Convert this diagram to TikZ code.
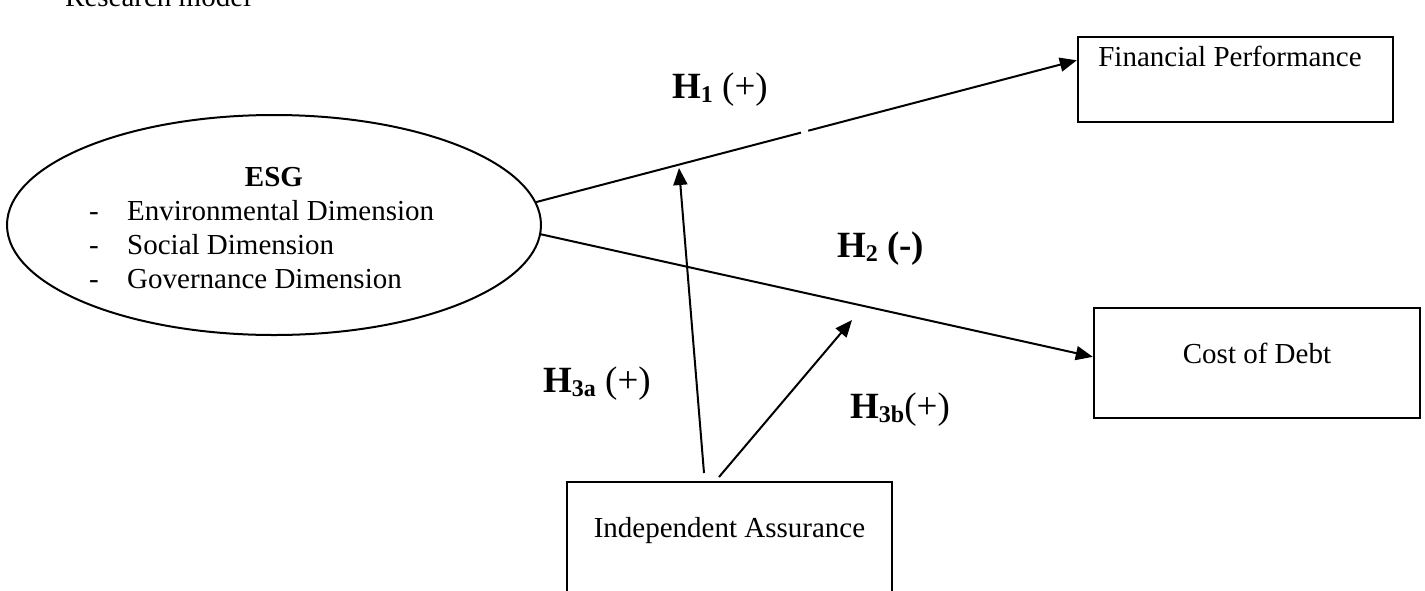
\documentclass[tikz,border=0pt]{standalone}
\usepackage{fontspec}
\setmainfont{Liberation Serif}
\usetikzlibrary{shapes.geometric,arrows.meta,calc}
\newcommand{\hsubx}[1]{\raisebox{-0.12em}{\fontsize{24}{24}\selectfont\bfseries #1}}
\begin{document}
\begin{tikzpicture}[x=1pt,y=-1pt,
  boxnode/.style={draw, line width=2.4pt, inner sep=0pt, rectangle},
  conn/.style={line width=2pt, -{Triangle[length=17pt,width=14pt]}},
  txt/.style={font=\fontsize{29}{34}\selectfont, inner sep=0pt, anchor=base},
  txtw/.style={font=\fontsize{29}{34}\selectfont, inner sep=0pt, anchor=base west},
  lab/.style={font=\fontsize{37}{40}\selectfont, inner sep=0pt, anchor=base west}]
\useasboundingbox (0,0) rectangle (1425,590);

% title (cut off at top)
\node[txtw] (title) at (65,6) {Research model};

% boxes
\node[boxnode, minimum width=315pt, minimum height=85pt] (fp) at (1235.5,79.5) {};
\node[txt] (fpt) at (1230,66) {Financial Performance};
\node[boxnode, minimum width=326pt, minimum height=110pt] (cd) at (1257,363) {};
\node[txt] (cdt) at (1257,363) {Cost of Debt};
\node[boxnode, minimum width=325pt, minimum height=130pt] (ia) at (729.5,547) {};
\node[txt] (iat) at (729.5,537) {Independent Assurance};

% ellipse
\node[draw, ellipse, line width=2pt, minimum width=534pt, minimum height=220pt, inner sep=0pt] (esg) at (274,225) {};
\node[txt, font=\fontsize{29}{34}\selectfont\bfseries] (esgt) at (274,186) {ESG};
\node[txtw] (d1) at (89,220) {-};
\node[txtw] (e1) at (127,220) {Environmental Dimension};
\node[txtw] (d2) at (89,254) {-};
\node[txtw] (e2) at (127,254) {Social Dimension};
\node[txtw] (d3) at (89,288) {-};
\node[txtw] (e3) at (127,288) {Governance Dimension};

% connectors
\coordinate (h1s) at (esg.5.9);
\coordinate (h1e) at ($(fp.north west)!0.28!(fp.south west)$);
\draw[conn] (h1s) -- (h1e);
\path (h1s) -- (h1e) coordinate[pos=0.49] (g1) coordinate[pos=0.503] (g2);
\draw[white, line width=4pt] (g1) -- (g2);

\coordinate (h2s) at (esg.-2);
\coordinate (h2e) at ($(cd.north west)!0.445!(cd.south west)$);
\draw[conn] (h2s) -- (h2e);

\coordinate (a3s) at (704,473);
\coordinate (a3e) at (679,168);
\draw[conn] (a3s) -- (a3e);
\coordinate (b3s) at (719,477);
\coordinate (b3e) at (852,320);
\draw[conn] (b3s) -- (b3e);

% labels
\node[lab] (h1) at (672,98) {\textbf{H}\hsubx{1} (+)};
\node[lab] (h2) at (837,257) {\textbf{H}\hsubx{2} \textbf{(-)}};
\node[lab] (h3a) at (543,392) {\textbf{H}\hsubx{3a} (+)};
\node[lab] (h3b) at (850,418) {\textbf{H}\hsubx{3b}(+)};
\end{tikzpicture}
\end{document}
